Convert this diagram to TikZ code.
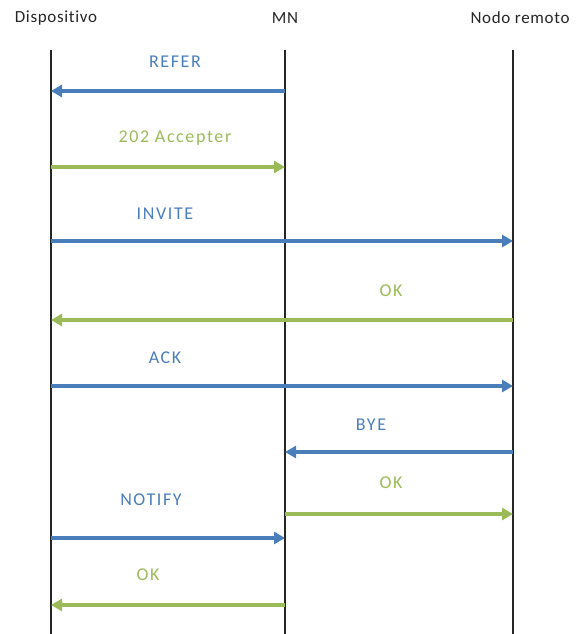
\documentclass[tikz,border=0pt]{standalone}
\usepackage{fontspec}
\setmainfont{Carlito}
\newfontfamily\headfont{Carlito}[LetterSpace=4,Ligatures={NoCommon}]
\newfontfamily\msgfont{Carlito}[LetterSpace=9,Ligatures={NoCommon}]
\usetikzlibrary{arrows.meta}
\definecolor{msgblue}{HTML}{4A7EBB}
\definecolor{msggreen}{HTML}{9BBB59}
\begin{document}
\begin{tikzpicture}[x=1pt,y=-1pt,
  lifeline/.style={draw=black!85,line width=1.8pt},
  header/.style={font=\headfont\fontsize{17}{19}\selectfont,text=black!85,inner sep=0},
  msg/.style={line width=3.2pt,-{Triangle[length=11pt,width=12pt]}},
  bluemsg/.style={msg,draw=msgblue},
  greenmsg/.style={msg,draw=msggreen},
  lbl/.style={font=\msgfont\fontsize{18}{20}\selectfont,inner sep=0}]
\useasboundingbox (0,0) rectangle (584,634);
% participants
\node[header] (hdev) at (56,18) {Dispositivo};
\node[header] (hmn) at (285,18) {MN};
\node[header] (hrem) at (520,18) {Nodo remoto};
% lifelines
\coordinate (dtop) at (51,50);  \coordinate (dbot) at (51,634);
\coordinate (mtop) at (285,50); \coordinate (mbot) at (285,634);
\coordinate (rtop) at (513,50); \coordinate (rbot) at (513,634);
\draw[lifeline] (dtop) -- (dbot);
\draw[lifeline] (mtop) -- (mbot);
\draw[lifeline] (rtop) -- (rbot);
% message endpoints
\foreach \n/\y in {1/91,2/167,3/241,4/320,5/386,6/452,7/514,8/538,9/605}{
  \coordinate (d\n) at (51,\y);
  \coordinate (m\n) at (285,\y);
  \coordinate (r\n) at (513,\y);
}
% messages
\draw[bluemsg] (m1) -- (d1);
\node[lbl,text=msgblue] (l1) at (175,62) {REFER};
\draw[greenmsg] (d2) -- (m2);
\node[lbl,text=msggreen] (l2) at (175,138) {202 Accepter};
\draw[bluemsg] (d3) -- (r3);
\node[lbl,text=msgblue] (l3) at (165,214) {INVITE};
\draw[greenmsg] (r4) -- (d4);
\node[lbl,text=msggreen] (l4) at (391,291) {OK};
\draw[bluemsg] (d5) -- (r5);
\node[lbl,text=msgblue] (l5) at (165,358) {ACK};
\draw[bluemsg] (r6) -- (m6);
\node[lbl,text=msgblue] (l6) at (371,425) {BYE};
\draw[greenmsg] (m7) -- (r7);
\node[lbl,text=msggreen] (l7) at (391,483) {OK};
\draw[bluemsg] (d8) -- (m8);
\node[lbl,text=msgblue] (l8) at (151,500) {NOTIFY};
\draw[greenmsg] (m9) -- (d9);
\node[lbl,text=msggreen] (l9) at (148,575) {OK};
\end{tikzpicture}
\end{document}
